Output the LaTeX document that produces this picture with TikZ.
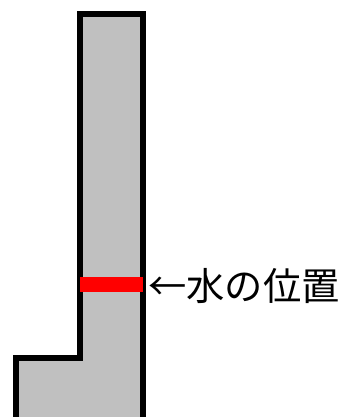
\documentclass[tikz,border=0pt]{standalone}
\usepackage{fontspec}
\newfontfamily\cjk{Noto Sans CJK JP}
\definecolor{wallgray}{RGB}{192,192,192}
\definecolor{waterred}{RGB}{255,0,0}
\tikzset{
  wall/.style={fill=wallgray, draw=black, line width=6pt, line join=miter},
  waterbar/.style={fill=waterred, draw=none},
  label/.style={font=\cjk\fontsize{38.3}{40}\selectfont, anchor=west, inner sep=0pt}
}
\begin{document}
\begin{tikzpicture}[x=1pt,y=-1pt]
\useasboundingbox (0,0) rectangle (339,417);
\clip (0,0) rectangle (339,417);
\fill[white] (0,0) rectangle (339,417);
\path[wall] (16,440) -- (16,357.5) -- (80,357.5) -- (80,14.5) -- (143,14.5) -- (143,440);
\path[waterbar] (80,277) rectangle (143,292);
\node[label] (lbl) at (148,286) {←水の位置};
\end{tikzpicture}
\end{document}
